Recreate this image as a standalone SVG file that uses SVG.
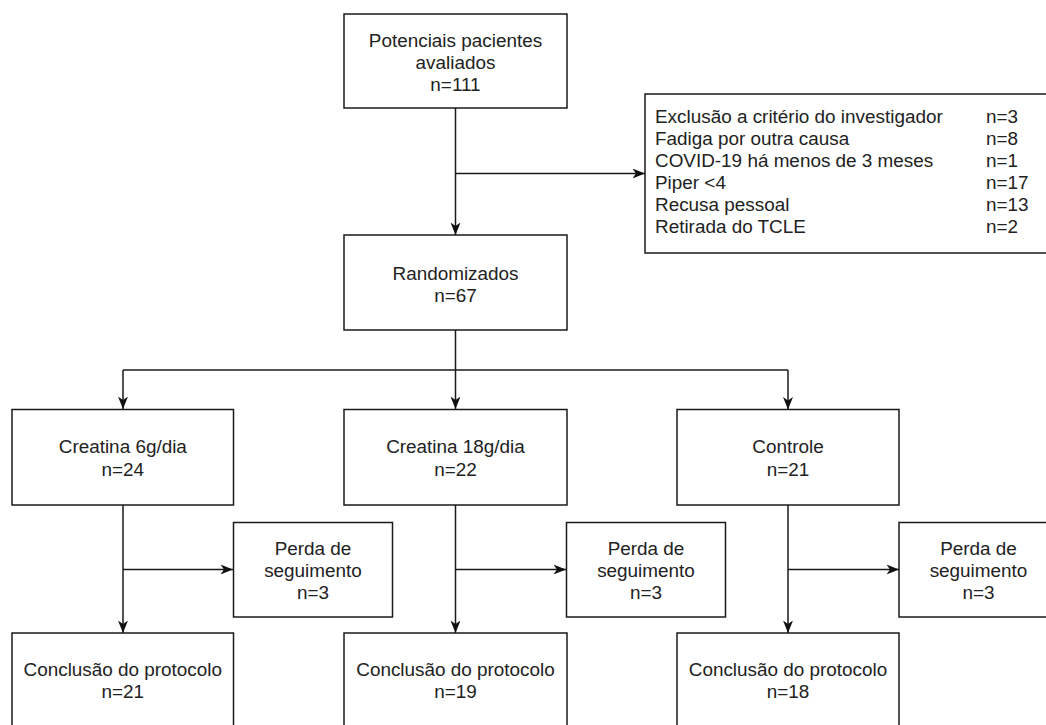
<svg xmlns="http://www.w3.org/2000/svg" width="1046" height="725" viewBox="0 0 1046 725">
<defs>
<marker id="arr" markerUnits="userSpaceOnUse" markerWidth="14" markerHeight="12" refX="12.5" refY="5.5" orient="auto">
<path d="M0,0.5 L12.5,5.5 L0,10.5 L3.5,5.5 Z" fill="#111"/>
</marker>
<style>
.box{fill:#fff;stroke:#1a1a1a;stroke-width:1.5}
.c{stroke:#1a1a1a;stroke-width:1.5;fill:none}
.t{font-family:"Liberation Sans",Arial,Helvetica,sans-serif;font-size:18.9px;fill:#222}
.m{text-anchor:middle}
</style>
</defs>
<rect width="1046" height="725" fill="#fff"/>
<g id="connectors">
<path class="c" d="M455.5,108 V235" marker-end="url(#arr)"/>
<path class="c" d="M455.5,173.5 H645" marker-end="url(#arr)"/>
<path class="c" d="M455.5,330 V409" marker-end="url(#arr)"/>
<path class="c" d="M123,370 H788"/>
<path class="c" d="M123,370 V409" marker-end="url(#arr)"/>
<path class="c" d="M788,370 V409.5" marker-end="url(#arr)"/>
<path class="c" d="M123,505 V633" marker-end="url(#arr)"/>
<path class="c" d="M123,569.5 H233" marker-end="url(#arr)"/>
<path class="c" d="M455.5,505 V633" marker-end="url(#arr)"/>
<path class="c" d="M455.5,569.5 H566" marker-end="url(#arr)"/>
<path class="c" d="M788,505 V633" marker-end="url(#arr)"/>
<path class="c" d="M788,569.5 H899" marker-end="url(#arr)"/>
</g>
<g id="n-potenciais">
<rect class="box" x="344" y="14" width="223" height="94"/>
<text class="t m" x="455.5" y="47">Potenciais pacientes</text>
<text class="t m" x="455.5" y="69">avaliados</text>
<text class="t m" x="455.5" y="91">n=111</text>
</g>
<g id="n-exclusao">
<rect class="box" x="645" y="94" width="420" height="159"/>
<text class="t" x="655" y="122.5">Exclusão a critério do investigador</text>
<text class="t" x="655" y="144.5">Fadiga por outra causa</text>
<text class="t" x="655" y="166.5">COVID-19 há menos de 3 meses</text>
<text class="t" x="655" y="188.5">Piper &lt;4</text>
<text class="t" x="655" y="210.5">Recusa pessoal</text>
<text class="t" x="655" y="232.5">Retirada do TCLE</text>
<text class="t" x="986" y="122.5">n=3</text>
<text class="t" x="986" y="144.5">n=8</text>
<text class="t" x="986" y="166.5">n=1</text>
<text class="t" x="986" y="188.5">n=17</text>
<text class="t" x="986" y="210.5">n=13</text>
<text class="t" x="986" y="232.5">n=2</text>
</g>
<g id="n-randomizados">
<rect class="box" x="344" y="235" width="223" height="95"/>
<text class="t m" x="455.5" y="279.5">Randomizados</text>
<text class="t m" x="455.5" y="301.8">n=67</text>
</g>
<g id="n-creatina6">
<rect class="box" x="12" y="409.5" width="221.5" height="95.5"/>
<text class="t m" x="122.8" y="453.3">Creatina 6g/dia</text>
<text class="t m" x="122.8" y="475.8">n=24</text>
</g>
<g id="n-creatina18">
<rect class="box" x="344" y="409.5" width="223" height="95.5"/>
<text class="t m" x="455.5" y="453.3">Creatina 18g/dia</text>
<text class="t m" x="455.5" y="475.8">n=22</text>
</g>
<g id="n-controle">
<rect class="box" x="677" y="409.5" width="222" height="95.5"/>
<text class="t m" x="788" y="453.3">Controle</text>
<text class="t m" x="788" y="475.8">n=21</text>
</g>
<g id="n-perda1">
<rect class="box" x="233.5" y="522.5" width="159" height="94.5"/>
<text class="t m" x="313" y="554.5">Perda de</text>
<text class="t m" x="313" y="576.8">seguimento</text>
<text class="t m" x="313" y="599">n=3</text>
</g>
<g id="n-perda2">
<rect class="box" x="566.5" y="522.5" width="159" height="94.5"/>
<text class="t m" x="646" y="554.5">Perda de</text>
<text class="t m" x="646" y="576.8">seguimento</text>
<text class="t m" x="646" y="599">n=3</text>
</g>
<g id="n-perda3">
<rect class="box" x="899" y="522.5" width="159" height="94.5"/>
<text class="t m" x="978.5" y="554.5">Perda de</text>
<text class="t m" x="978.5" y="576.8">seguimento</text>
<text class="t m" x="978.5" y="599">n=3</text>
</g>
<g id="n-conclusao1">
<rect class="box" x="12" y="633" width="221.5" height="110"/>
<text class="t m" x="122.8" y="675.8">Conclusão do protocolo</text>
<text class="t m" x="122.8" y="698">n=21</text>
</g>
<g id="n-conclusao2">
<rect class="box" x="344" y="633" width="223" height="110"/>
<text class="t m" x="455.5" y="675.8">Conclusão do protocolo</text>
<text class="t m" x="455.5" y="698">n=19</text>
</g>
<g id="n-conclusao3">
<rect class="box" x="677" y="633" width="222" height="110"/>
<text class="t m" x="788" y="675.8">Conclusão do protocolo</text>
<text class="t m" x="788" y="698">n=18</text>
</g>
</svg>
